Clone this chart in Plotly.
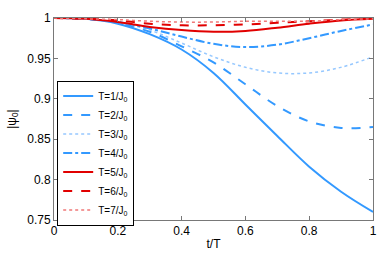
import plotly.graph_objects as go

t = [0, 0.1, 0.2, 0.3, 0.4, 0.5, 0.6, 0.7, 0.8, 0.9, 1.0]
T1 = [1, 0.999, 0.993, 0.980, 0.961, 0.932, 0.893, 0.854, 0.816, 0.785, 0.760]
T2 = [1, 0.999, 0.994, 0.983, 0.965, 0.945, 0.918, 0.891, 0.872, 0.864, 0.865]
T3 = [1, 0.999, 0.995, 0.985, 0.969, 0.952, 0.939, 0.932, 0.932, 0.939, 0.952]
T4 = [1, 0.999, 0.995, 0.987, 0.977, 0.968, 0.964, 0.967, 0.975, 0.984, 0.992]
T5 = [1, 0.999, 0.995, 0.989, 0.985, 0.983, 0.984, 0.988, 0.993, 0.997, 0.999]
T6 = [1, 0.999, 0.997, 0.993, 0.991, 0.991, 0.992, 0.994, 0.996, 0.998, 0.999]
T7 = [1, 0.999, 0.998, 0.996, 0.995, 0.995, 0.996, 0.996, 0.996, 0.998, 0.999]
names = ["T=1/J<sub>0</sub>", "T=2/J<sub>0</sub>", "T=3/J<sub>0</sub>", "T=4/J<sub>0</sub>",
         "T=5/J<sub>0</sub>", "T=6/J<sub>0</sub>", "T=7/J<sub>0</sub>"]
xticks = [0, 0.2, 0.4, 0.6, 0.8, 1]
xticklabels = ["0", "0.2", "0.4", "0.6", "0.8", "1"]
yticks = [0.75, 0.8, 0.85, 0.9, 0.95, 1]
yticklabels = ["0.75", "0.8", "0.85", "0.9", "0.95", "1"]

series = [T1, T2, T3, T4, T5, T6, T7]
styles = [
    ("rgb(51,153,255)", "solid", 2),
    ("rgb(51,153,255)", "dash", 2),
    ("rgb(150,200,255)", "dot", 1.5),
    ("rgb(51,153,255)", "dashdot", 2),
    ("rgb(225,0,0)", "solid", 2),
    ("rgb(225,0,0)", "dash", 2),
    ("rgb(240,120,120)", "dot", 1.5),
]

fig = go.Figure()
for y, n, (c, d, w) in zip(series, names, styles):
    fig.add_trace(go.Scatter(x=t, y=y, name=n, mode="lines",
                             line=dict(color=c, dash=d, width=w, shape="spline", smoothing=1.0)))

axcommon = dict(showline=True, linecolor="rgb(120,120,120)", linewidth=1, mirror="ticks",
                ticks="inside", ticklen=4, tickcolor="rgb(120,120,120)", showgrid=False,
                zeroline=False, tickfont=dict(size=12, color="black"))
fig.update_xaxes(range=[0, 1], tickvals=xticks, ticktext=xticklabels,
                 title=dict(text="t/T", font=dict(size=12, color="black"), standoff=2), **axcommon)
fig.update_yaxes(range=[0.75, 1], tickvals=yticks, ticktext=yticklabels,
                 title=dict(text="|ψ<sub>0</sub>|", font=dict(size=12, color="black"), standoff=8), **axcommon)
fig.update_layout(
    width=388, height=260, margin=dict(l=53, r=15, t=11, b=32),
    plot_bgcolor="white", paper_bgcolor="white",
    font=dict(family="Liberation Sans, Arial, sans-serif", size=12, color="black"),
    legend=dict(x=0.01, y=0.69, xanchor="left", yanchor="top", bordercolor="black",
                borderwidth=1, bgcolor="white", font=dict(size=10), tracegroupgap=0,
                itemwidth=30),
    showlegend=True,
)
fig.write_html("out.html", config={"displayModeBar": False},
               post_script="document.body.style.margin='0';")
